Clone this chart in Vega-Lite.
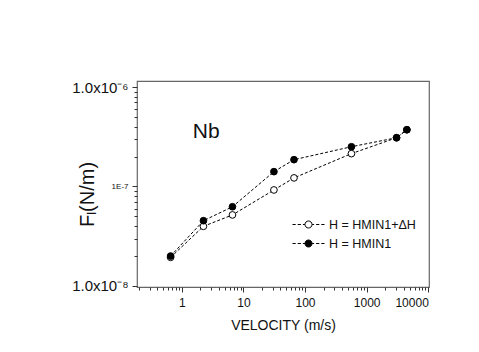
{
  "$schema": "https://vega.github.io/schema/vega-lite/v6.json",
  "autosize": {"type": "none"},
  "padding": {"left": 137, "top": 81, "right": 50, "bottom": 65},
  "width": 292,
  "height": 206,
  "background": "white",
  "config": {
    "font": "Liberation Sans",
    "view": {"stroke": "#666", "strokeWidth": 1.2},
    "axis": {"grid": false, "domain": false, "tickColor": "#333", "labelColor": "#111", "titleColor": "#111", "titleFontWeight": "normal", "labelFont": "Liberation Sans", "titleFont": "Liberation Sans"}
  },
  "data": {
    "values": [
      {"series": "H =  HMIN1+ΔH", "v": 0.66, "f": 1.94e-8},
      {"series": "H =  HMIN1+ΔH", "v": 2.25, "f": 3.98e-8},
      {"series": "H =  HMIN1+ΔH", "v": 6.65, "f": 5.18e-8},
      {"series": "H =  HMIN1+ΔH", "v": 31.3, "f": 9.23e-8},
      {"series": "H =  HMIN1+ΔH", "v": 66.2, "f": 1.22e-7},
      {"series": "H =  HMIN1+ΔH", "v": 566, "f": 2.14e-7},
      {"series": "H =  HMIN1+ΔH", "v": 3054, "f": 3.09e-7},
      {"series": "H =  HMIN1+ΔH", "v": 4490, "f": 3.72e-7},
      {"series": "H =  HMIN1", "v": 0.66, "f": 2.0e-8},
      {"series": "H =  HMIN1", "v": 2.25, "f": 4.53e-8},
      {"series": "H =  HMIN1", "v": 6.65, "f": 6.26e-8},
      {"series": "H =  HMIN1", "v": 31.3, "f": 1.41e-7},
      {"series": "H =  HMIN1", "v": 66.2, "f": 1.86e-7},
      {"series": "H =  HMIN1", "v": 566, "f": 2.51e-7},
      {"series": "H =  HMIN1", "v": 3054, "f": 3.09e-7},
      {"series": "H =  HMIN1", "v": 4490, "f": 3.72e-7}
    ]
  },
  "encoding": {
    "x": {
      "field": "v", "type": "quantitative",
      "scale": {"type": "log", "domain": [0.188, 10260], "nice": false},
      "axis": {
        "title": "VELOCITY (m/s)",
        "titleFontSize": 14,
        "titlePadding": 10,
        "labelFontSize": 12,
        "labelPadding": 5,
        "values": [0.2,0.3,0.4,0.5,0.6,0.7,0.8,0.9,1,2,3,4,5,6,7,8,9,10,20,30,40,50,60,70,80,90,100,200,300,400,500,600,700,800,900,1000,2000,3000,4000,5000,6000,7000,8000,9000,10000],
        "labelExpr": "abs(log(datum.value)/LN10 - round(log(datum.value)/LN10)) < 1e-6 ? format(datum.value, 'd') : ''",
        "tickSize": {"condition": {"test": "abs(log(datum.value)/LN10 - round(log(datum.value)/LN10)) < 1e-6", "value": 5}, "value": 3}
      }
    },
    "y": {
      "field": "f", "type": "quantitative",
      "scale": {"type": "log", "domain": [9.77e-9, 1.149e-6], "nice": false},
      "axis": {
        "title": "Fₗ(N/m)",
        "titleFontSize": 20,
        "titleX": -40,
        "titleY": 113,
        "values": [1e-8,2e-8,3e-8,4e-8,5e-8,6e-8,7e-8,8e-8,9e-8,1e-7,2e-7,3e-7,4e-7,5e-7,6e-7,7e-7,8e-7,9e-7,1e-6],
        "labelExpr": "datum.value > 0.99e-6 ? '1.0x10⁻⁶' : (datum.value > 0.99e-7 && datum.value < 1.01e-7) ? '1E-7' : datum.value < 1.01e-8 ? '1.0x10⁻⁸' : ''",
        "labelFontSize": {"condition": {"test": "datum.value > 0.99e-7 && datum.value < 1.01e-7", "value": 8}, "value": 15},
        "labelPadding": 4,
        "tickSize": {"condition": {"test": "abs(log(datum.value)/LN10 - round(log(datum.value)/LN10)) < 1e-6", "value": 5}, "value": 3}
      }
    }
  },
  "layer": [
    {
      "mark": {"type": "line", "color": "black", "strokeWidth": 1, "strokeDash": [3, 2]},
      "encoding": {"detail": {"field": "series"}}
    },
    {
      "mark": {"type": "point", "shape": "circle", "filled": true, "stroke": "black", "strokeWidth": 1, "size": 45, "opacity": 1},
      "encoding": {
        "fill": {
          "field": "series", "type": "nominal",
          "scale": {"domain": ["H =  HMIN1+ΔH", "H =  HMIN1"], "range": ["white", "black"]},
          "legend": {
            "title": null,
            "orient": "none",
            "legendX": 163,
            "legendY": 135,
            "symbolType": "M-2,0H-1.6M-1.35,0H-0.95M-0.7,0H-0.45M0.45,0H0.7M0.95,0H1.35M1.6,0H2M-0.44,0A0.44,0.44 0 1,1 0.44,0A0.44,0.44 0 1,1 -0.44,0Z",
            "symbolSize": 256,
            "symbolStrokeColor": "black",
            "symbolStrokeWidth": 1,
            "labelOffset": 12,
            "labelFontSize": 12.5,
            "labelColor": "#111",
            "labelFont": "Liberation Sans",
            "rowPadding": 4,
            "padding": 0
          }
        }
      }
    },
    {
      "data": {"values": [{"label": "Nb", "v": 2.5, "f": 3.5e-7}]},
      "mark": {"type": "text", "fontSize": 21, "font": "Liberation Sans", "color": "#111", "align": "center", "baseline": "middle"},
      "encoding": {"text": {"field": "label"}}
    }
  ]
}
